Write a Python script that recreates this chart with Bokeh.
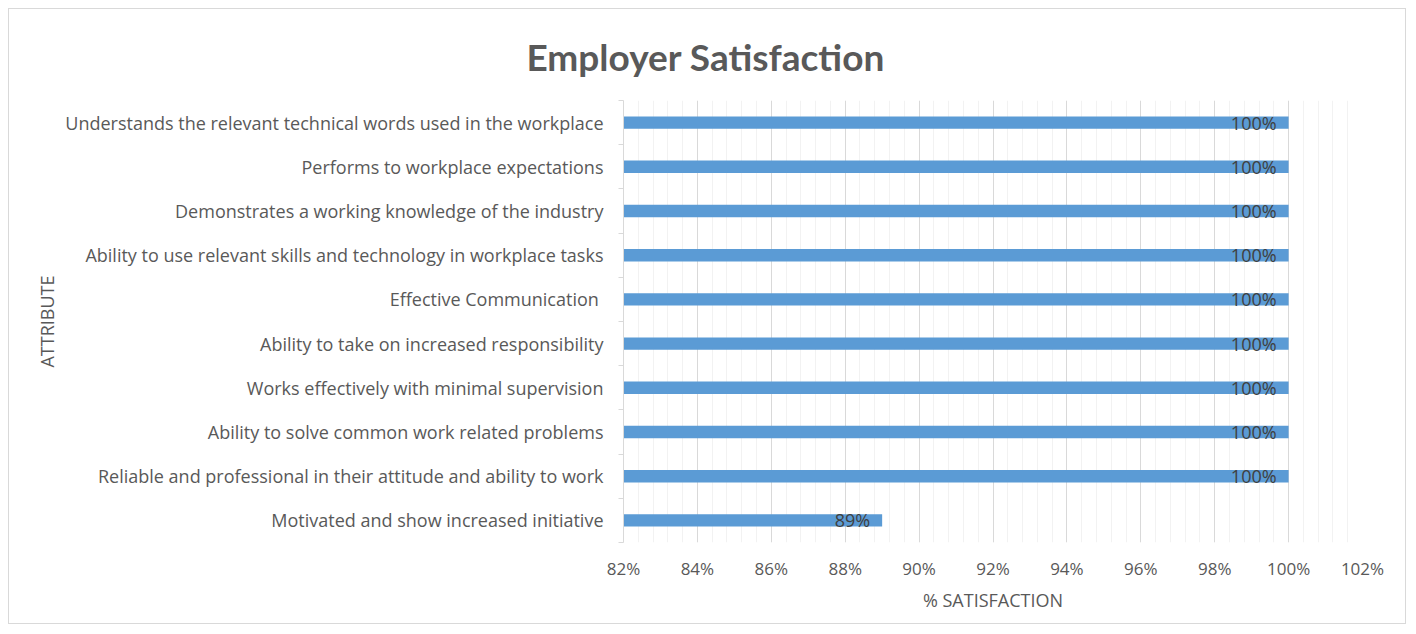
from bokeh.plotting import figure
from bokeh.models import FixedTicker, ColumnDataSource, Range1d, NumeralTickFormatter, Title
from bokeh.core.properties import value
from bokeh.embed import file_html
from bokeh.resources import INLINE

attributes = [
    "Motivated and show increased initiative",
    "Reliable and professional in their attitude and ability to work",
    "Ability to solve common work related problems",
    "Works effectively with minimal supervision",
    "Ability to take on increased responsibility",
    "Effective Communication ",
    "Ability to use relevant skills and technology in workplace tasks",
    "Demonstrates a working knowledge of the industry",
    "Performs to workplace expectations",
    "Understands the relevant technical words used in the workplace",
]
satisfaction = [0.89, 1.00, 1.00, 1.00, 1.00, 1.00, 1.00, 1.00, 1.00, 1.00]
x_ticks = [0.82, 0.84, 0.86, 0.88, 0.90, 0.92, 0.94, 0.96, 0.98, 1.00, 1.02]

FONT = "Open Sans"
n = len(attributes)
ypos = [i + 0.5 for i in range(n)]
src = ColumnDataSource(dict(
    y=ypos, v=satisfaction, left=[x_ticks[0]] * n,
    lab=["{:.0f}%".format(v * 100) for v in satisfaction],
))

W, H = 1398, 616
p = figure(width=W, height=H, output_backend="svg", toolbar_location=None,
           x_range=Range1d(0.82, 1.02), y_range=Range1d(0, n),
           min_border_left=614, min_border_right=45, min_border_top=91, min_border_bottom=83)
p.styles = {"border": "1px solid #D9D9D9", "margin": "8px 0 0 8px"}
p.outline_line_color = None
p.background_fill_color = "white"
p.border_fill_color = "white"

p.hbar(y="y", left="left", right="v", height=0.28, source=src,
       fill_color="#5B9BD5", line_color=None)
p.text(x="v", y="y", text="lab", source=src, x_offset=-12,
       text_align="right", text_baseline="middle",
       text_font_size="18px", text_color="#404040", text_font=value(FONT))

# x axis
minor = [round(0.82 + 0.004 * i, 4) for i in range(51)]
p.xaxis.ticker = FixedTicker(ticks=x_ticks, minor_ticks=minor)
p.xaxis.formatter = NumeralTickFormatter(format="0%")
p.xaxis.axis_line_color = None
p.xaxis.major_tick_line_color = None
p.xaxis.minor_tick_line_color = None
p.xaxis.major_label_text_font = FONT
p.xaxis.major_label_text_font_size = "17px"
p.xaxis.major_label_text_color = "#595959"
p.xaxis.major_label_standoff = 8
p.xaxis.axis_label = "% SATISFACTION"
p.xaxis.axis_label_text_font = FONT
p.xaxis.axis_label_text_font_style = "normal"
p.xaxis.axis_label_text_font_size = "18px"
p.xaxis.axis_label_text_color = "#595959"
p.xaxis.axis_label_standoff = 5

# y axis
p.yaxis.ticker = FixedTicker(ticks=ypos, minor_ticks=list(range(n + 1)))
p.yaxis.major_label_overrides = {y: a for y, a in zip(ypos, attributes)}
p.yaxis.axis_line_color = "#D9D9D9"
p.yaxis.major_tick_line_color = None
p.yaxis.major_tick_out = 0
p.yaxis.major_tick_in = 0
p.yaxis.minor_tick_line_color = "#D9D9D9"
p.yaxis.minor_tick_out = 5
p.yaxis.minor_tick_in = 0
p.yaxis.major_label_text_font = FONT
p.yaxis.major_label_text_font_size = "18px"
p.yaxis.major_label_text_color = "#595959"
p.yaxis.major_label_standoff = 15
p.yaxis.axis_label = "ATTRIBUTE"
p.yaxis.axis_label_text_font = FONT
p.yaxis.axis_label_text_font_style = "normal"
p.yaxis.axis_label_text_font_size = "18px"
p.yaxis.axis_label_text_color = "#595959"
p.yaxis.axis_label_standoff = 3

p.xgrid.grid_line_color = "#D9D9D9"
p.xgrid.minor_grid_line_color = "#F2F2F2"
p.ygrid.grid_line_color = None

p.add_layout(Title(text="Employer Satisfaction", align="left", offset=-97, standoff=44,
                   text_font="Lato", text_font_style="bold", text_font_size="37px",
                   text_color="#595959"), "above")

open("out.html", "w").write(file_html(p, INLINE))
